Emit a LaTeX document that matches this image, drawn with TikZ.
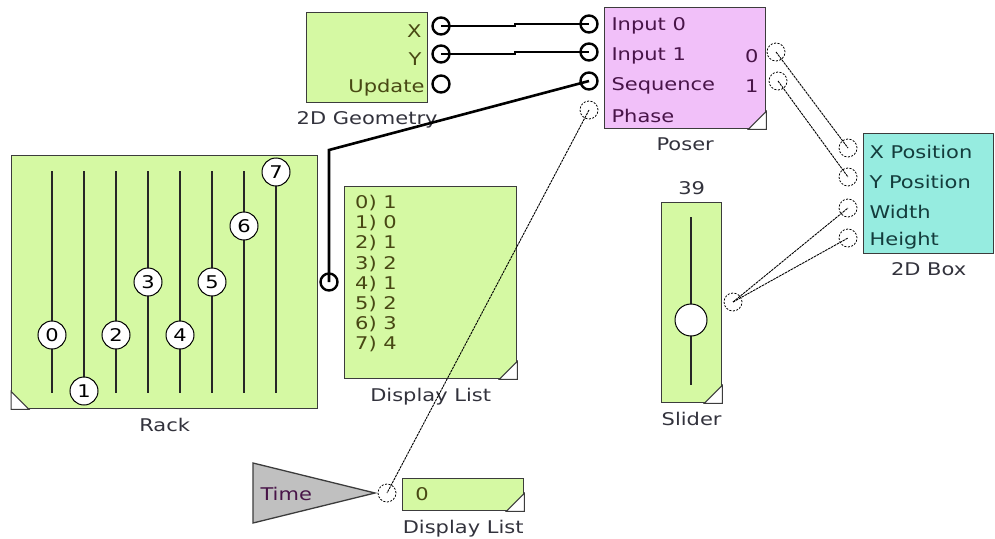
\documentclass[tikz,border=0pt]{standalone}
\usepackage{fontspec}
\setmainfont[FakeStretch=1.2]{DejaVu Sans}
\usetikzlibrary{positioning, shapes.geometric}
\definecolor{edge}{RGB}{60,60,60}
\definecolor{blockgreen}{RGB}{213,249,163}
\definecolor{posepink}{RGB}{241,192,249}
\definecolor{boxcyan}{RGB}{150,236,224}
\definecolor{greentext}{RGB}{72,72,20}
\definecolor{pinktext}{RGB}{72,20,72}
\definecolor{cyantext}{RGB}{20,60,60}
\definecolor{captext}{RGB}{50,50,60}
\definecolor{timegray}{RGB}{192,192,192}
\tikzset{
  block/.style={draw=edge, line width=1.3pt, anchor=north west, inner sep=0pt},
  caption/.style={text=captext, below=5pt of #1},
  plug/.style={circle, draw=black, line width=2.4pt, minimum size=17pt, inner sep=0pt},
  dplug/.style={circle, draw=black, line width=0.8pt, dash pattern=on 2pt off 1.5pt, minimum size=18pt, inner sep=0pt},
  wire/.style={line width=2.6pt, black},
  thinwire/.style={line width=0.9pt, black, dash pattern=on 2.5pt off 0.8pt},
  rail/.style={line width=1.4pt, black!85},
  knob/.style={circle, draw=black, line width=1pt, fill=white, minimum size=28pt, inner sep=0pt}
}
\newcommand{\dogear}[1]{\filldraw[fill=white, draw=edge, line width=1pt] (#1.south east) -- ++(-18,0) -- ++(18,-18) -- cycle;}

\begin{document}
\begin{tikzpicture}[x=1pt, y=-1pt, font=\fontsize{17.5}{20}\selectfont]
  \useasboundingbox (0,0) rectangle (995,538);

  % blocks
  \node[block, fill=blockgreen, minimum width=121pt, minimum height=90pt] (geo) at (306,12) {};
  \node[block, fill=posepink, minimum width=161pt, minimum height=121pt] (poser) at (604,7) {};
  \node[block, fill=blockgreen, minimum width=306pt, minimum height=253pt] (rack) at (11,155) {};
  \node[block, fill=blockgreen, minimum width=172pt, minimum height=192pt] (dlist) at (344,186) {};
  \node[block, fill=blockgreen, minimum width=60pt, minimum height=200pt] (slider) at (661,202) {};
  \node[block, fill=boxcyan, minimum width=130pt, minimum height=120pt] (box) at (863,133) {};
  \node[block, fill=blockgreen, minimum width=121pt, minimum height=32pt] (dsmall) at (402,478) {};
  \filldraw[fill=timegray, draw=edge, line width=1.3pt] (253,463) -- (375,493) -- (253,523) -- cycle;

  \dogear{poser}
  \dogear{dlist}
  \dogear{slider}
  \dogear{dsmall}
  \filldraw[fill=white, draw=edge, line width=1pt] (rack.south west) -- ++(18,0) -- ++(-18,-18) -- cycle;

  % captions
  \node[caption=geo] (geocap) {2D Geometry};
  \node[caption=poser] (posercap) {Poser};
  \node[caption=rack] (rackcap) {Rack};
  \node[caption=dlist] (dlistcap) {Display List};
  \node[caption=slider] (slidercap) {Slider};
  \node[caption=box] (boxcap) {2D Box};
  \node[caption=dsmall] (dsmallcap) {Display List};
  \node[text=captext, above=4pt of slider] (sliderval) {39};

  % texts inside
  \node[text=greentext, anchor=east] (tX) at (425,31) {X};
  \node[text=greentext, anchor=east] (tY) at (425,59) {Y};
  \node[text=greentext, anchor=east] (tU) at (428,88) {Update};
  \node[text=pinktext, anchor=west] (tIn0) at (608,26) {Input 0};
  \node[text=pinktext, anchor=west] (tIn1) at (608,56) {Input 1};
  \node[text=pinktext, anchor=west] (tSeq) at (608,86) {Sequence};
  \node[text=pinktext, anchor=west] (tPh) at (608,116) {Phase};
  \node[text=pinktext, anchor=east] (tOut0) at (762,56) {0};
  \node[text=pinktext, anchor=east] (tOut1) at (762,86) {1};
  \node[text=cyantext, anchor=west] (tXp) at (866,152) {X Position};
  \node[text=cyantext, anchor=west] (tYp) at (866,182) {Y Position};
  \node[text=cyantext, anchor=west] (tW) at (866,212) {Width};
  \node[text=cyantext, anchor=west] (tH) at (866,241) {Height};
  \node[text=pinktext, anchor=west] (tTime) at (257,494) {Time};
  \node[text=greentext] (tZero) at (422,494) {0};
  \foreach \i/\v in {0/1,1/0,2/1,3/2,4/1,5/2,6/3,7/4} {
    \pgfmathsetmacro{\ly}{203+20.2*\i}
    \node[text=greentext, anchor=west, inner sep=0pt] (row\i) at (355,\ly) {\i)\ \v};
  }

  % rack rails and knobs
  \foreach \i/\ky in {0/335,1/391,2/335,3/282,4/335,5/282,6/226,7/172} {
    \pgfmathsetmacro{\kx}{52+32*\i}
    \draw[rail] (\kx,171) -- (\kx,393);
    \node[knob] (k\i) at (\kx,\ky) {\i};
  }

  % slider
  \draw[rail] (691,217) -- (691,385);
  \node[knob, minimum size=32pt] (sknob) at (691,320) {};

  % ports
  \node[plug] (geoX) at (441,26) {};
  \node[plug] (geoY) at (441,54) {};
  \node[plug] (geoU) at (441,84) {};
  \node[plug] (pIn0) at (589,24) {};
  \node[plug] (pIn1) at (589,52) {};
  \node[plug] (pSeq) at (589,81) {};
  \node[dplug] (pPh) at (589,110) {};
  \node[dplug] (pOut0) at (776,52) {};
  \node[dplug] (pOut1) at (778,81) {};
  \node[dplug] (bX) at (848,148) {};
  \node[dplug] (bY) at (848,177) {};
  \node[dplug] (bW) at (848,208) {};
  \node[dplug] (bH) at (848,238) {};
  \node[plug] (rackOut) at (329,282) {};
  \node[dplug] (sOut) at (733,302) {};
  \node[dplug] (timeOut) at (387,493) {};

  % wires
  \draw[wire] (geoX.center) -- ++(74,0) |- (pIn0.center);
  \draw[wire] (geoY.center) -- ++(74,0) |- (pIn1.center);
  \draw[wire] (rackOut.center) -- ++(0,-132) -- (pSeq.center);
  \draw[thinwire] (pPh.center) -- (timeOut.center);
  \draw[thinwire] (pOut0.center) -- (bX.center);
  \draw[thinwire] (pOut1.center) -- (bY.center);
  \draw[thinwire] (sOut.center) -- (bW.center);
  \draw[thinwire] (sOut.center) -- (bH.center);
\end{tikzpicture}
\end{document}
